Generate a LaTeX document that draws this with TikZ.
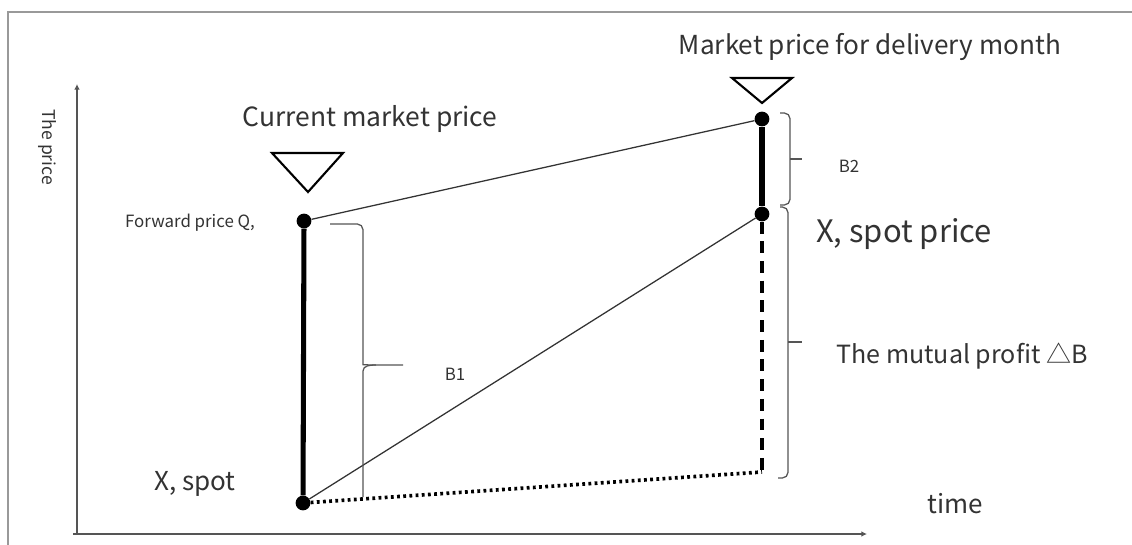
\documentclass[tikz,border=0pt]{standalone}
\usepackage{fontspec}
\setmainfont{Noto Sans CJK SC}
\usepackage{xcolor}
\usepackage{tikz}
\usetikzlibrary{arrows.meta}
\definecolor{ink}{HTML}{333333}
\definecolor{rule}{HTML}{999999}
\definecolor{axisgray}{HTML}{555555}

\begin{document}
\begin{tikzpicture}[x=0.025cm, y=-0.025cm, every node/.style={text=ink, inner sep=0pt},
  big/.style={font=\fontsize{18.8}{22}\selectfont},
  huge/.style={font=\fontsize{22}{26}\selectfont},
  small/.style={font=\fontsize{12}{14}\selectfont},
  dot/.style={circle, fill=black, minimum size=10.5pt},
  bar/.style={line width=3.6pt, black},
  thinline/.style={line width=0.9pt, ink},
  brace/.style={line width=0.9pt, axisgray, rounded corners=4pt},
  axis/.style={line width=1.3pt, axisgray, -{Latex[length=4pt,width=4pt]}},
  marker/.style={line width=1.5pt, black, line join=miter}]
\useasboundingbox (0,0) rectangle (1132,545);
% frame
\draw[rule, line width=1.5pt] (8,545) -- (8,12) -- (1132,12);
% axes
\coordinate (o) at (77,534);
\draw[axis] (73,534) -- (867,534);
\draw[axis] (o) -- (77,84);
\node[small, font=\fontsize{12.5}{14}\selectfont, rotate=-90] (ylab) at (47,147) {The price};
\node[big, anchor=base, font=\fontsize{18.5}{22}\selectfont] (tlab) at (955,513) {time};
% price points
\node[dot] (q) at (304,221) {};
\node[dot] (s) at (303,503) {};
\node[dot] (m) at (762,119) {};
\node[dot] (x) at (762,214) {};
\coordinate (e) at (762,472);
\draw[thinline] (q) -- (m);
\draw[thinline] (s) -- (x);
\draw[bar] (q) -- (s);
\draw[bar] (m) -- (x);
\draw[line width=2.8pt, black, dash pattern=on 8.5pt off 5.5pt] (x) -- (e);
\draw[line width=2.6pt, black, dash pattern=on 2pt off 2.4pt] (s) -- (e);
% markers
\draw[marker] (272,153) -- (343,153) -- (308,192) -- cycle;
\draw[marker] (732,78) -- (792,78) -- (762,103) -- cycle;
% braces
\draw[brace] (330,224) -- (363,224) -- (363,359) to[out=-90,in=180] (376,365) -- (403,365);
\draw[line width=0.9pt, axisgray] (376,365) to[out=180,in=90] (363,371) -- (363,497);
\draw[brace] (780,113) -- (790,113) -- (790,205) -- (780,205);
\draw[line width=0.9pt, axisgray] (790,159) -- (802,159);
\draw[brace] (780,207) -- (788,207) -- (788,478) -- (778,478);
\draw[line width=0.9pt, axisgray] (788,342) -- (802,342);
% labels
\node[big, anchor=base] (cur) at (370,127) {Current market price};
\node[big, anchor=base, font=\fontsize{18.6}{22}\selectfont] (del) at (870,55) {Market price for delivery month};
\node[small, anchor=base] (fwd) at (190,227) {Forward price Q,};
\node[huge, anchor=base] (xsp) at (904,242) {X, spot price};
\node[big, anchor=base, font=\fontsize{18.5}{22}\selectfont] (xs) at (195,490) {X, spot};
\node[small, anchor=base] (b1) at (455,380) {B1};
\node[small, anchor=base] (b2) at (849,172) {B2};
\node[big, anchor=base, font=\fontsize{17.8}{22}\selectfont] (gain) at (962,363) {The mutual profit △B};
\end{tikzpicture}
\end{document}
